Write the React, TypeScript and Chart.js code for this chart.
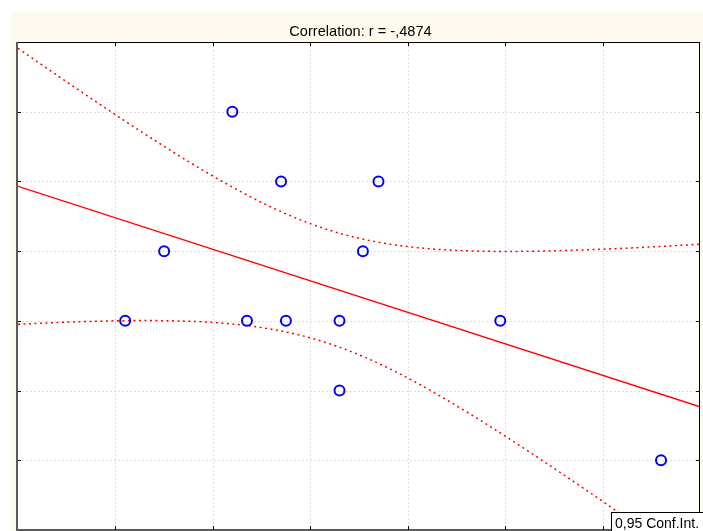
import { useEffect, useRef } from "react";
import { Chart, registerables } from "chart.js";

Chart.register(...registerables);

// Observations
const xValues = [2.2, 2.7, 3.7, 1.5, 3.54, 1.1, 2.35, 2.75, 3.3, 4.95, 3.3, 6.6];
const yValues = [6, 5, 5, 4, 4, 3, 3, 3, 3, 3, 2, 1];

// Axis ranges (ticks every 1 unit, labels hidden)
const xRange = [0, 7];
const yRange = [0, 7];

const titleText = "Correlation: r = -,4874";
const legendText = "0,95 Conf.Int.";
const tCritical = 2.228; // t(0.975, df = n - 2 = 10)

const FONT = "'Liberation Sans', Arial, sans-serif";

// Least-squares fit plus 95% confidence band for the fitted mean
function fitLine(xs: number[], ys: number[]) {
  const n = xs.length;
  const mx = xs.reduce((a, b) => a + b, 0) / n;
  const my = ys.reduce((a, b) => a + b, 0) / n;
  let sxx = 0, sxy = 0, syy = 0;
  for (let i = 0; i < n; i++) {
    sxx += (xs[i] - mx) ** 2;
    sxy += (xs[i] - mx) * (ys[i] - my);
    syy += (ys[i] - my) ** 2;
  }
  const slope = sxy / sxx;
  const intercept = my - slope * mx;
  const s = Math.sqrt((syy - (sxy * sxy) / sxx) / (n - 2));
  const predict = (x: number) => intercept + slope * x;
  const half = (x: number) => tCritical * s * Math.sqrt(1 / n + (x - mx) ** 2 / sxx);
  return { predict, half };
}

const fit = fitLine(xValues, yValues);
const bandX: number[] = [];
for (let i = 0; i <= 140; i++) bandX.push(xRange[0] + ((xRange[1] - xRange[0]) * i) / 140);

const framePlugin = {
  id: "frame",
  beforeDraw(chart: any) {
    const { ctx, chartArea: a, width, height } = chart;
    ctx.save();
    ctx.fillStyle = "#ffffff";
    ctx.fillRect(0, 0, width, height);
    ctx.fillStyle = "#fffaf0";
    ctx.fillRect(11, 12, width - 11, height - 12);
    ctx.fillStyle = "#ffffff";
    ctx.fillRect(a.left, a.top, a.right - a.left, a.bottom - a.top);
    ctx.restore();
  },
  beforeDatasetsDraw(chart: any) {
    // dotted grid at every unit step of both scales
    const { ctx, chartArea: a, scales } = chart;
    ctx.save();
    ctx.strokeStyle = "#dedede";
    ctx.lineWidth = 1;
    ctx.setLineDash([2, 2]);
    ctx.beginPath();
    for (let v = xRange[0] + 1; v < xRange[1]; v++) {
      const px = Math.round(scales.x.getPixelForValue(v)) + 0.5;
      ctx.moveTo(px, a.top);
      ctx.lineTo(px, a.bottom);
    }
    for (let v = yRange[0] + 1; v < yRange[1]; v++) {
      const py = Math.round(scales.y.getPixelForValue(v)) + 0.5;
      ctx.moveTo(a.left, py);
      ctx.lineTo(a.right, py);
    }
    ctx.stroke();
    ctx.restore();
  },
  afterDraw(chart: any) {
    const { ctx, chartArea: a, scales } = chart;
    const xs = scales.x, ys = scales.y;
    ctx.save();
    // top and right frame
    ctx.strokeStyle = "#000000";
    ctx.lineWidth = 1;
    ctx.beginPath();
    ctx.moveTo(a.left, a.top + 0.5);
    ctx.lineTo(a.right, a.top + 0.5);
    ctx.moveTo(a.right - 0.5, a.top);
    ctx.lineTo(a.right - 0.5, a.bottom);
    ctx.stroke();
    // left and bottom axes
    ctx.strokeStyle = "#5a5a5a";
    ctx.lineWidth = 2;
    ctx.beginPath();
    ctx.moveTo(a.left - 1, a.top);
    ctx.lineTo(a.left - 1, a.bottom + 1);
    ctx.moveTo(a.left - 2, a.bottom);
    ctx.lineTo(a.right, a.bottom);
    ctx.stroke();
    // inward tick marks
    ctx.strokeStyle = "#000000";
    ctx.lineWidth = 1;
    ctx.beginPath();
    for (let v = yRange[0] + 1; v < yRange[1]; v++) {
      const py = Math.round(ys.getPixelForValue(v)) + 0.5;
      ctx.moveTo(a.left, py);
      ctx.lineTo(a.left + 3, py);
      ctx.moveTo(a.right, py);
      ctx.lineTo(a.right - 4, py);
    }
    for (let v = xRange[0] + 1; v < xRange[1]; v++) {
      const px = Math.round(xs.getPixelForValue(v)) + 0.5;
      ctx.moveTo(px, a.top);
      ctx.lineTo(px, a.top + 4);
      ctx.moveTo(px, a.bottom);
      ctx.lineTo(px, a.bottom - 4);
    }
    ctx.stroke();
    // title
    ctx.fillStyle = "#000000";
    ctx.font = `14.6px ${FONT}`;
    ctx.textAlign = "center";
    ctx.textBaseline = "alphabetic";
    ctx.fillText(titleText, 360.5, 36);
    // legend box
    ctx.fillStyle = "#ffffff";
    ctx.fillRect(611, 512, 120, 40);
    ctx.strokeStyle = "#000000";
    ctx.strokeRect(611.5, 512.5, 120, 40);
    ctx.fillStyle = "#000000";
    ctx.font = `14px ${FONT}`;
    ctx.textAlign = "left";
    ctx.fillText(legendText, 615, 528);
    ctx.restore();
  },
};

export default function App() {
  const ref = useRef<HTMLCanvasElement>(null);

  useEffect(() => {
    if (!ref.current) return;
    const points = xValues.map((x, i) => ({ x, y: yValues[i] }));
    const bandStyle = {
      type: "line" as const,
      borderColor: "#ff0000",
      borderWidth: 1.5,
      borderDash: [2, 3.5],
      pointRadius: 0,
      fill: false,
      tension: 0,
      clip: 0,
    };
    const chart = new Chart(ref.current, {
      type: "scatter",
      data: {
        datasets: [
          {
            data: points,
            pointStyle: "circle",
            pointRadius: 5,
            pointBorderWidth: 2,
            borderColor: "#0000ff",
            backgroundColor: "rgba(255,255,255,0)",
            showLine: false,
          },
          {
            type: "line",
            data: [
              { x: xRange[0], y: fit.predict(xRange[0]) },
              { x: xRange[1], y: fit.predict(xRange[1]) },
            ],
            borderColor: "#ff0000",
            borderWidth: 1.3,
            pointRadius: 0,
            fill: false,
            clip: 0,
          },
          { ...bandStyle, data: bandX.map((x) => ({ x, y: fit.predict(x) + fit.half(x) })) },
          { ...bandStyle, data: bandX.map((x) => ({ x, y: fit.predict(x) - fit.half(x) })) },
        ] as any,
      },
      options: {
        responsive: true,
        maintainAspectRatio: false,
        animation: false,
        events: [],
        layout: { autoPadding: false, padding: { left: 18, top: 42, right: 3, bottom: 1 } },
        plugins: { legend: { display: false }, title: { display: false }, tooltip: { enabled: false } },
        scales: {
          x: { type: "linear", display: false, min: xRange[0], max: xRange[1], ticks: { stepSize: 1 } },
          y: { type: "linear", display: false, min: yRange[0], max: yRange[1], ticks: { stepSize: 1 } },
        },
      },
      plugins: [framePlugin],
    });
    return () => chart.destroy();
  }, []);

  return (
    <div style={{ position: "absolute", left: 0, top: 0, width: 703, height: 531 }}>
      <canvas ref={ref} />
    </div>
  );
}
